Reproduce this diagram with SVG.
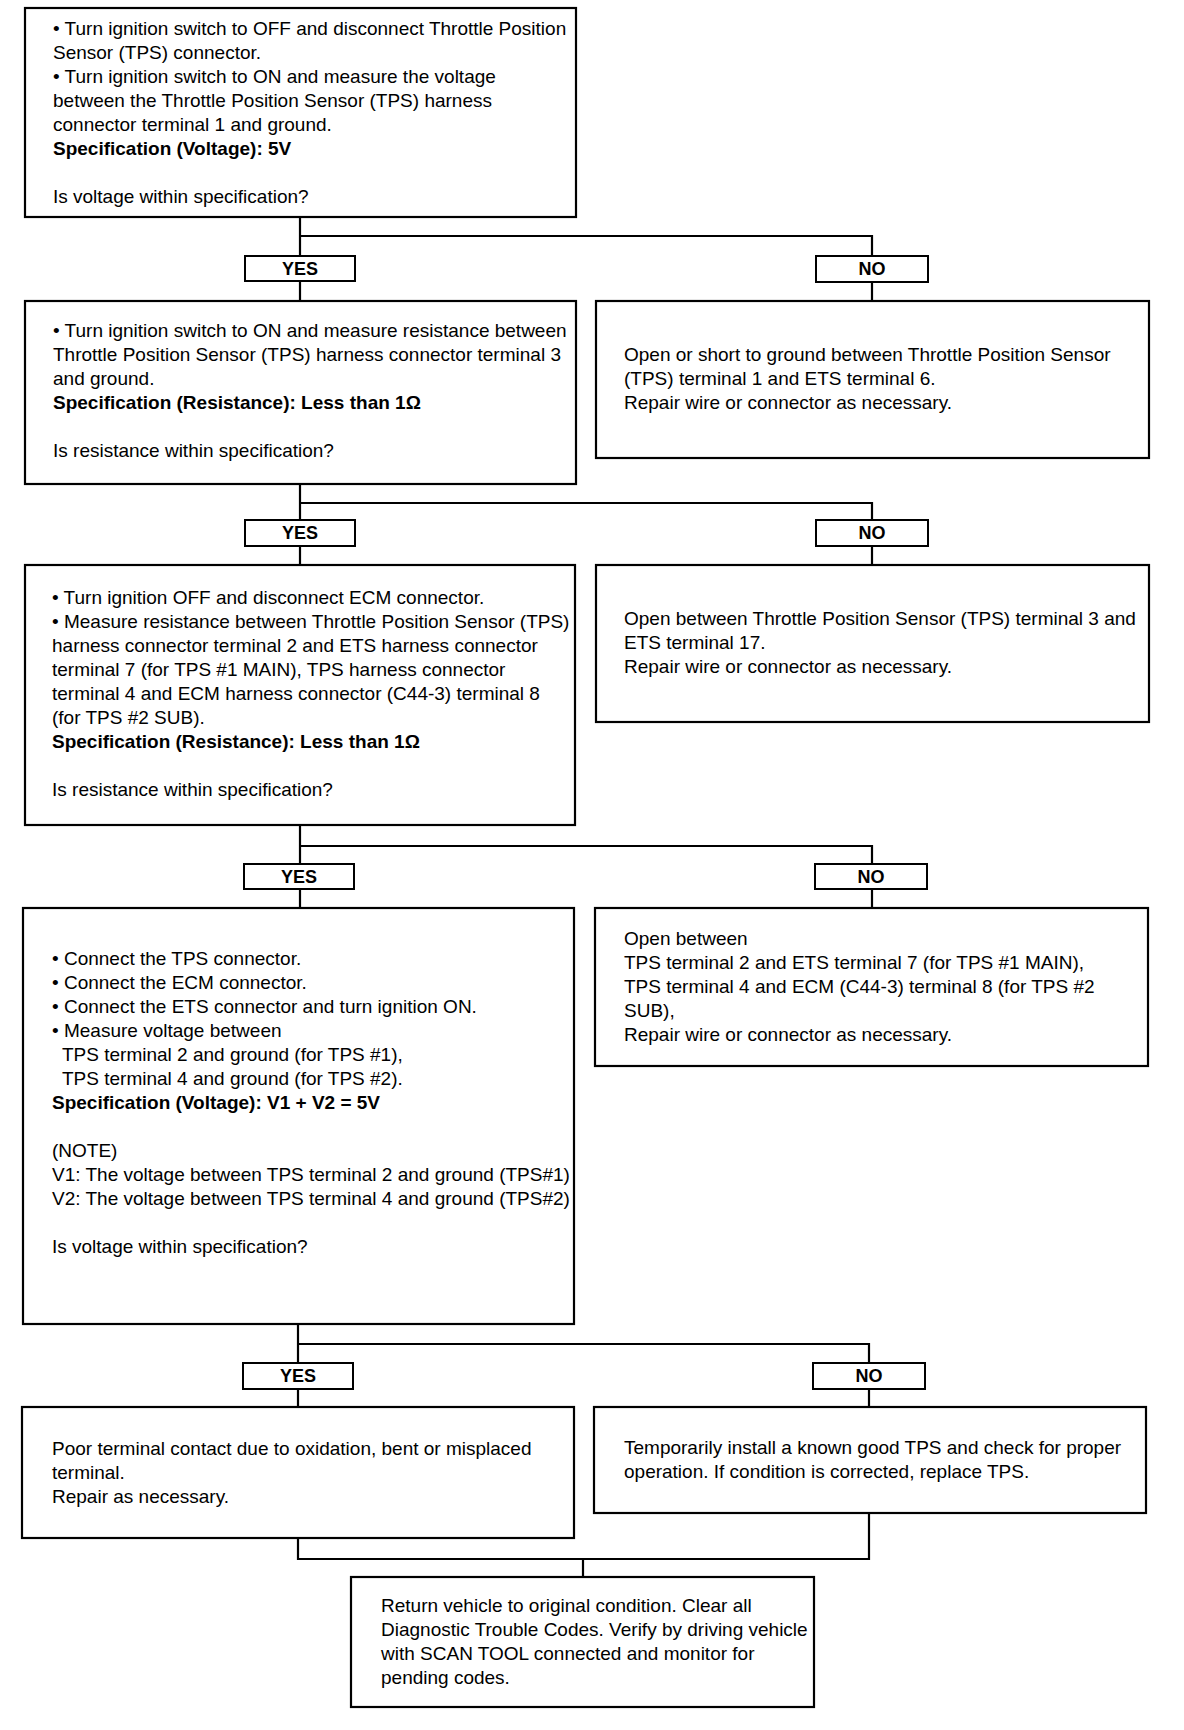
<svg xmlns="http://www.w3.org/2000/svg" width="1184" height="1730" viewBox="0 0 1184 1730">
<style>
.box{fill:#fff;stroke:#000;stroke-width:2.2}
.lbl{fill:#fff;stroke:#000;stroke-width:2}
.t{font-family:"Liberation Sans",Arial,sans-serif;font-size:19px;fill:#000}
.b{font-weight:bold}
.l{font-family:"Liberation Sans",Arial,sans-serif;font-size:18px;font-weight:bold;fill:#000;text-anchor:middle}
.c{fill:none;stroke:#000;stroke-width:2.2}
</style>
<rect width="1184" height="1730" fill="#fff"/>
<g id="connectors">
<path class="c" d="M300 217V301M300 236H872V301"/>
<path class="c" d="M300 484V565M300 503H872V565"/>
<path class="c" d="M300 825V908M300 846H872V908"/>
<path class="c" d="M298 1324V1407M298 1344H869V1407"/>
<path class="c" d="M298 1538V1559H869V1513M583 1559V1577"/>
</g>
<g id="lbl-yes1"><rect class="lbl" x="245" y="256" width="110" height="25"/><text class="l" x="300" y="275">YES</text></g>
<g id="lbl-no1"><rect class="lbl" x="816" y="256" width="112" height="26"/><text class="l" x="872" y="275">NO</text></g>
<g id="lbl-yes2"><rect class="lbl" x="245" y="520" width="110" height="26"/><text class="l" x="300" y="539">YES</text></g>
<g id="lbl-no2"><rect class="lbl" x="816" y="520" width="112" height="26"/><text class="l" x="872" y="539">NO</text></g>
<g id="lbl-yes3"><rect class="lbl" x="244" y="864" width="110" height="25"/><text class="l" x="299" y="883">YES</text></g>
<g id="lbl-no3"><rect class="lbl" x="815" y="864" width="112" height="25"/><text class="l" x="871" y="883">NO</text></g>
<g id="lbl-yes4"><rect class="lbl" x="243" y="1363" width="110" height="26"/><text class="l" x="298" y="1382">YES</text></g>
<g id="lbl-no4"><rect class="lbl" x="813" y="1363" width="112" height="26"/><text class="l" x="869" y="1382">NO</text></g>

<g id="n1">
<rect class="box" x="25" y="8" width="551" height="209"/>
<text class="t" x="53" y="35">• Turn ignition switch to OFF and disconnect Throttle Position</text>
<text class="t" x="53" y="59">Sensor (TPS) connector.</text>
<text class="t" x="53" y="83">• Turn ignition switch to ON and measure the voltage</text>
<text class="t" x="53" y="107">between the Throttle Position Sensor (TPS) harness</text>
<text class="t" x="53" y="131">connector terminal 1 and ground.</text>
<text class="t b" x="53" y="155">Specification (Voltage): 5V</text>
<text class="t" x="53" y="203">Is voltage within specification?</text>
</g>
<g id="n2">
<rect class="box" x="25" y="301" width="551" height="183"/>
<text class="t" x="53" y="337">• Turn ignition switch to ON and measure resistance between</text>
<text class="t" x="53" y="361">Throttle Position Sensor (TPS) harness connector terminal 3</text>
<text class="t" x="53" y="385">and ground.</text>
<text class="t b" x="53" y="409">Specification (Resistance): Less than 1Ω</text>
<text class="t" x="53" y="457">Is resistance within specification?</text>
</g>
<g id="n2no">
<rect class="box" x="596" y="301" width="553" height="157"/>
<text class="t" x="624" y="361">Open or short to ground between Throttle Position Sensor</text>
<text class="t" x="624" y="385">(TPS) terminal 1 and ETS terminal 6.</text>
<text class="t" x="624" y="409">Repair wire or connector as necessary.</text>
</g>
<g id="n3">
<rect class="box" x="25" y="565" width="550" height="260"/>
<text class="t" x="52" y="604">• Turn ignition OFF and disconnect ECM connector.</text>
<text class="t" x="52" y="628">• Measure resistance between Throttle Position Sensor (TPS)</text>
<text class="t" x="52" y="652">harness connector terminal 2 and ETS harness connector</text>
<text class="t" x="52" y="676">terminal 7 (for TPS #1 MAIN), TPS harness connector</text>
<text class="t" x="52" y="700">terminal 4 and ECM harness connector (C44-3) terminal 8</text>
<text class="t" x="52" y="724">(for TPS #2 SUB).</text>
<text class="t b" x="52" y="748">Specification (Resistance): Less than 1Ω</text>
<text class="t" x="52" y="796">Is resistance within specification?</text>
</g>
<g id="n3no">
<rect class="box" x="596" y="565" width="553" height="157"/>
<text class="t" x="624" y="625">Open between Throttle Position Sensor (TPS) terminal 3 and</text>
<text class="t" x="624" y="649">ETS terminal 17.</text>
<text class="t" x="624" y="673">Repair wire or connector as necessary.</text>
</g>
<g id="n4">
<rect class="box" x="23" y="908" width="551" height="416"/>
<text class="t" x="52" y="965">• Connect the TPS connector.</text>
<text class="t" x="52" y="989">• Connect the ECM connector.</text>
<text class="t" x="52" y="1013">• Connect the ETS connector and turn ignition ON.</text>
<text class="t" x="52" y="1037">• Measure voltage between</text>
<text class="t" x="62" y="1061">TPS terminal 2 and ground (for TPS #1),</text>
<text class="t" x="62" y="1085">TPS terminal 4 and ground (for TPS #2).</text>
<text class="t b" x="52" y="1109">Specification (Voltage): V1 + V2 = 5V</text>
<text class="t" x="52" y="1157">(NOTE)</text>
<text class="t" x="52" y="1181">V1: The voltage between TPS terminal 2 and ground (TPS#1)</text>
<text class="t" x="52" y="1205">V2: The voltage between TPS terminal 4 and ground (TPS#2)</text>
<text class="t" x="52" y="1253">Is voltage within specification?</text>
</g>
<g id="n4no">
<rect class="box" x="595" y="908" width="553" height="158"/>
<text class="t" x="624" y="945">Open between</text>
<text class="t" x="624" y="969">TPS terminal 2 and ETS terminal 7 (for TPS #1 MAIN),</text>
<text class="t" x="624" y="993">TPS terminal 4 and ECM (C44-3) terminal 8 (for TPS #2</text>
<text class="t" x="624" y="1017">SUB),</text>
<text class="t" x="624" y="1041">Repair wire or connector as necessary.</text>
</g>
<g id="n5">
<rect class="box" x="22" y="1407" width="552" height="131"/>
<text class="t" x="52" y="1455">Poor terminal contact due to oxidation, bent or misplaced</text>
<text class="t" x="52" y="1479">terminal.</text>
<text class="t" x="52" y="1503">Repair as necessary.</text>
</g>
<g id="n5no">
<rect class="box" x="594" y="1407" width="552" height="106"/>
<text class="t" x="624" y="1454">Temporarily install a known good TPS and check for proper</text>
<text class="t" x="624" y="1478">operation. If condition is corrected, replace TPS.</text>
</g>
<g id="n6">
<rect class="box" x="351" y="1577" width="463" height="130"/>
<text class="t" x="381" y="1612">Return vehicle to original condition. Clear all</text>
<text class="t" x="381" y="1636">Diagnostic Trouble Codes. Verify by driving vehicle</text>
<text class="t" x="381" y="1660">with SCAN TOOL connected and monitor for</text>
<text class="t" x="381" y="1684">pending codes.</text>
</g>
</svg>
